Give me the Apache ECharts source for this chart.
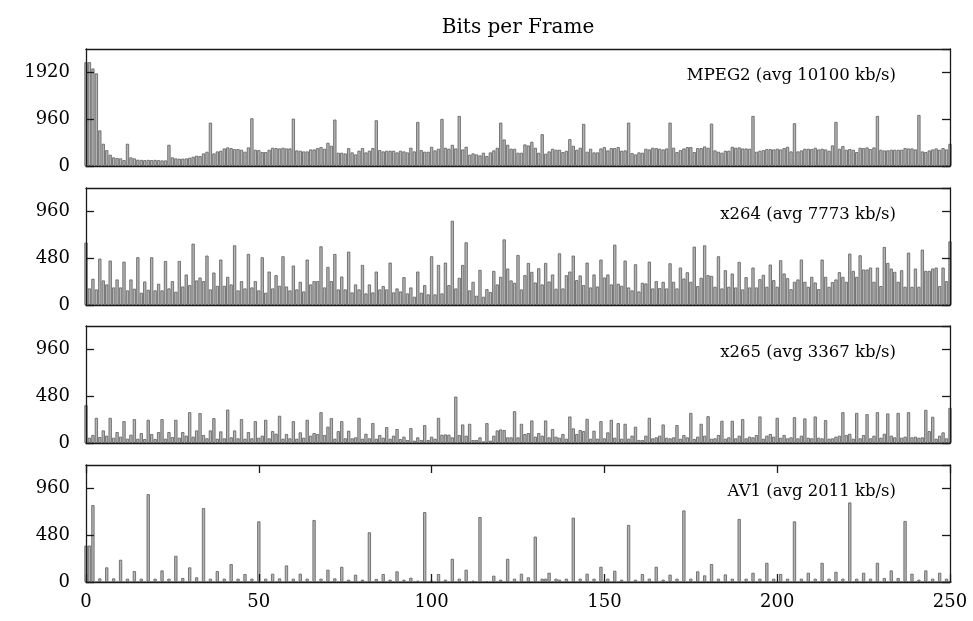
<!DOCTYPE html>
<html>
<head>
<meta charset="utf-8">
<script src="https://cdn.jsdelivr.net/npm/echarts@6/dist/echarts.min.js"></script>
<style>
html, body { margin: 0; padding: 0; background: #fff; }
#chart { width: 973px; height: 621px; }
</style>
</head>
<body>
<div id="chart"></div>
<script>
// bits per frame (kbit), frames 0..250
var mpeg2Bits = [
    2130, 2130, 2000, 1900, 730, 456, 326, 231, 177, 163,
    156, 122, 456, 177, 156, 129, 125, 120, 125, 122,
    125, 120, 115, 115, 435, 177, 156, 150, 150, 156,
    170, 190, 211, 204, 258, 292, 890, 258, 299, 313,
    360, 381, 367, 347, 347, 333, 292, 381, 979, 333,
    326, 286, 286, 333, 374, 367, 360, 374, 360, 360,
    972, 320, 313, 299, 299, 340, 340, 367, 388, 354,
    476, 415, 952, 272, 272, 258, 367, 279, 238, 313,
    367, 279, 313, 367, 938, 326, 299, 313, 313, 313,
    279, 313, 299, 279, 374, 299, 904, 326, 292, 292,
    394, 320, 354, 966, 374, 354, 435, 360, 1027, 340,
    394, 231, 258, 238, 218, 272, 204, 279, 320, 374,
    890, 544, 435, 354, 354, 272, 272, 442, 422, 496,
    374, 272, 653, 252, 299, 354, 333, 333, 286, 313,
    551, 415, 333, 374, 864, 292, 354, 279, 279, 360,
    388, 320, 367, 367, 388, 313, 320, 890, 265, 238,
    279, 272, 354, 340, 374, 367, 354, 340, 360, 890,
    374, 286, 326, 360, 388, 388, 286, 367, 367, 401,
    374, 870, 320, 292, 272, 313, 313, 394, 374, 381,
    360, 360, 354, 1027, 292, 313, 326, 347, 347, 340,
    354, 340, 367, 394, 299, 877, 299, 320, 354, 354,
    347, 374, 340, 354, 340, 313, 422, 904, 354, 408,
    333, 347, 333, 286, 374, 367, 381, 347, 381, 1027,
    333, 320, 320, 333, 333, 333, 333, 367, 360, 360,
    340, 1047, 299, 286, 320, 340, 360, 333, 367, 340, 456
];
var x264Bits = [
    640, 170, 269, 160, 476, 252, 211, 456, 180, 262,
    180, 445, 150, 262, 167, 490, 126, 241, 156, 490,
    150, 218, 150, 452, 170, 245, 136, 452, 190, 313,
    204, 629, 252, 282, 245, 507, 160, 333, 197, 466,
    197, 289, 211, 612, 150, 245, 170, 524, 180, 245,
    150, 490, 126, 343, 170, 306, 197, 500, 190, 150,
    405, 160, 238, 139, 466, 211, 245, 245, 602, 180,
    391, 245, 524, 160, 292, 160, 547, 129, 211, 160,
    411, 119, 211, 129, 343, 160, 194, 160, 435, 129,
    170, 139, 286, 119, 180, 85, 343, 126, 204, 109,
    500, 109, 411, 119, 435, 204, 864, 170, 279, 411,
    643, 150, 238, 95, 360, 85, 163, 133, 350, 211,
    289, 673, 374, 252, 228, 513, 160, 306, 432, 340,
    231, 377, 211, 432, 241, 313, 167, 530, 170, 306,
    343, 507, 255, 303, 204, 435, 180, 313, 190, 466,
    282, 313, 211, 619, 218, 197, 456, 180, 150, 418,
    139, 228, 221, 445, 170, 245, 173, 238, 170, 428,
    238, 170, 384, 272, 336, 238, 599, 194, 279, 612,
    306, 299, 187, 500, 170, 357, 187, 323, 180, 442,
    160, 286, 180, 384, 180, 265, 310, 187, 415, 255,
    187, 459, 323, 275, 163, 238, 262, 466, 238, 187,
    289, 231, 163, 466, 289, 187, 235, 262, 337, 289,
    238, 527, 350, 289, 510, 364, 364, 384, 238, 384,
    194, 595, 432, 374, 340, 238, 357, 187, 537, 187,
    374, 187, 568, 350, 350, 374, 384, 194, 384, 245, 653
];
var x265Bits = [
    388, 54, 82, 258, 61, 129, 75, 258, 54, 112,
    65, 224, 44, 85, 245, 44, 102, 41, 238, 92,
    41, 112, 245, 44, 112, 61, 238, 54, 112, 75,
    316, 65, 129, 306, 82, 48, 129, 255, 44, 119,
    48, 343, 58, 129, 48, 245, 44, 112, 48, 224,
    54, 75, 238, 48, 122, 95, 279, 44, 92, 48,
    224, 44, 109, 54, 238, 75, 102, 92, 316, 82,
    167, 255, 44, 122, 224, 48, 126, 48, 58, 258,
    44, 95, 48, 204, 44, 82, 54, 163, 44, 75,
    143, 41, 65, 31, 153, 24, 58, 31, 184, 31,
    65, 44, 258, 85, 88, 85, 58, 476, 82, 190,
    75, 197, 31, 31, 58, 17, 204, 24, 75, 129,
    139, 133, 58, 58, 326, 58, 197, 92, 102, 231,
    65, 102, 75, 231, 58, 143, 65, 54, 92, 44,
    272, 150, 92, 133, 122, 248, 44, 126, 44, 224,
    48, 109, 238, 54, 204, 44, 197, 44, 75, 167,
    31, 31, 75, 258, 48, 58, 75, 190, 54, 48,
    58, 184, 44, 82, 58, 309, 41, 65, 197, 75,
    275, 44, 48, 82, 228, 44, 58, 228, 48, 75,
    245, 48, 65, 58, 82, 272, 44, 75, 92, 65,
    258, 54, 82, 48, 58, 265, 48, 75, 252, 54,
    48, 272, 54, 48, 235, 44, 48, 65, 75, 316,
    82, 95, 44, 309, 48, 82, 296, 48, 75, 316,
    54, 95, 303, 75, 58, 309, 54, 65, 316, 58,
    65, 54, 58, 340, 122, 269, 44, 75, 109, 48, 360
];
var av1Bits = [
    374, 374, 789, 0, 37, 0, 150, 0, 37, 0,
    228, 0, 34, 0, 112, 0, 34, 0, 901, 0,
    34, 0, 119, 0, 34, 0, 269, 0, 41, 0,
    150, 0, 48, 0, 758, 0, 34, 0, 112, 0,
    34, 0, 184, 0, 34, 0, 82, 0, 34, 0,
    622, 0, 34, 0, 85, 0, 37, 0, 170, 0,
    34, 0, 85, 0, 34, 0, 636, 0, 34, 0,
    126, 0, 37, 0, 156, 0, 24, 0, 75, 0,
    24, 0, 510, 0, 31, 0, 82, 0, 24, 0,
    109, 0, 24, 0, 44, 0, 14, 0, 717, 0,
    14, 0, 82, 0, 24, 0, 238, 0, 34, 0,
    126, 0, 14, 0, 666, 0, 7, 0, 65, 0,
    24, 0, 238, 0, 34, 0, 85, 0, 48, 0,
    466, 0, 34, 34, 95, 0, 34, 24, 0, 34,
    0, 660, 0, 34, 0, 85, 0, 34, 0, 156,
    0, 34, 0, 116, 0, 24, 0, 585, 0, 24,
    0, 82, 0, 34, 0, 156, 0, 24, 0, 75,
    0, 34, 0, 734, 0, 34, 0, 109, 0, 68,
    0, 184, 0, 34, 0, 78, 0, 34, 0, 646,
    0, 34, 0, 95, 0, 34, 0, 197, 0, 34,
    0, 82, 0, 34, 0, 622, 0, 34, 0, 95,
    0, 34, 0, 197, 0, 34, 0, 105, 0, 34,
    0, 816, 0, 34, 0, 95, 0, 34, 0, 197,
    0, 41, 0, 119, 0, 41, 0, 626, 0, 85,
    0, 24, 0, 119, 0, 34, 0, 95, 0, 34, 0
];

var chartTitle = 'Bits per Frame';
var codecLabels = ['MPEG2 (avg 10100 kb/s)', 'x264 (avg 7773 kb/s)', 'x265 (avg 3367 kb/s)', 'AV1 (avg 2011 kb/s)'];
var yMaxes = [2400, 1200, 1200, 1200];
var yTickSteps = [960, 480, 480, 480];
var frameMin = 0, frameMax = 250, frameStep = 50;

var panels = [mpeg2Bits, x264Bits, x265Bits, av1Bits];

var FONT = '"DejaVu Serif", serif';
var LINE = '#1a1a1a';
var panelTops = [49, 188, 326, 465];
var panelH = 117;

//数字不加千分位
function plainNum(v) {
    return String(v);
}

var grids = [], xAxes = [], yAxes = [], series = [], texts = [];

for (var k = 0; k < panels.length; k++) {
    var last = (k == panels.length - 1);
    grids.push({ left: 86, right: 23, top: panelTops[k], height: panelH, show: false });

    // bottom and top x axes (only the last panel has ticks / labels)
    xAxes.push({
        gridIndex: k, type: 'value', position: 'bottom', z: 5,
        min: frameMin, max: frameMax, interval: frameStep,
        axisLine: { show: true, onZero: false, lineStyle: { color: LINE, width: 1.3 } },
        axisTick: { show: last, inside: true, length: 8, lineStyle: { color: LINE, width: 1.3 } },
        axisLabel: { show: last, color: '#000', fontFamily: FONT, fontSize: 18, margin: 11, formatter: plainNum },
        splitLine: { show: false }
    });
    xAxes.push({
        gridIndex: k, type: 'value', position: 'top', z: 5,
        min: frameMin, max: frameMax, interval: frameStep,
        axisLine: { show: true, onZero: false, lineStyle: { color: LINE, width: 1.3 } },
        axisTick: { show: last, inside: true, length: 8, lineStyle: { color: LINE, width: 1.3 } },
        axisLabel: { show: false },
        splitLine: { show: false }
    });

    // left y axis with labels, right y axis mirrors ticks
    yAxes.push({
        gridIndex: k, type: 'value', position: 'left', z: 5,
        min: 0, max: yMaxes[k], interval: yTickSteps[k],
        axisLine: { show: true, onZero: false, lineStyle: { color: LINE, width: 1.3 } },
        axisTick: { show: true, inside: true, length: 8, lineStyle: { color: LINE, width: 1.3 } },
        axisLabel: { show: true, showMaxLabel: false, color: '#000', fontFamily: FONT, fontSize: 18, margin: 16, formatter: plainNum },
        splitLine: { show: false }
    });
    yAxes.push({
        gridIndex: k, type: 'value', position: 'right', z: 5,
        min: 0, max: yMaxes[k], interval: yTickSteps[k],
        axisLine: { show: true, onZero: false, lineStyle: { color: LINE, width: 1.3 } },
        axisTick: { show: true, inside: true, length: 8, lineStyle: { color: LINE, width: 1.3 } },
        axisLabel: { show: false },
        splitLine: { show: false }
    });

    series.push({
        type: 'bar',
        name: codecLabels[k],
        xAxisIndex: 2 * k,
        yAxisIndex: 2 * k,
        barWidth: 3.3,
        silent: true,
        itemStyle: { color: '#b4b4b4', borderColor: '#6a6a6a', borderWidth: 0.9 },
        data: panels[k].map(function (v, i) { return [frameMin + i, v]; })
    });

    texts.push({
        type: 'text', right: 77, top: panelTops[k] + 18, z: 10,
        style: { text: codecLabels[k], font: '16.5px ' + FONT, fill: '#000' }
    });
}

texts.push({
    type: 'text', x: 518, y: 28, z: 10,
    style: { text: chartTitle, font: '20px ' + FONT, fill: '#000', textAlign: 'center', textVerticalAlign: 'middle' }
});

var myChart = echarts.init(document.getElementById('chart'));
myChart.setOption({
    animation: false,
    backgroundColor: '#fff',
    grid: grids,
    xAxis: xAxes,
    yAxis: yAxes,
    series: series,
    graphic: texts
});
</script>
</body>
</html>
